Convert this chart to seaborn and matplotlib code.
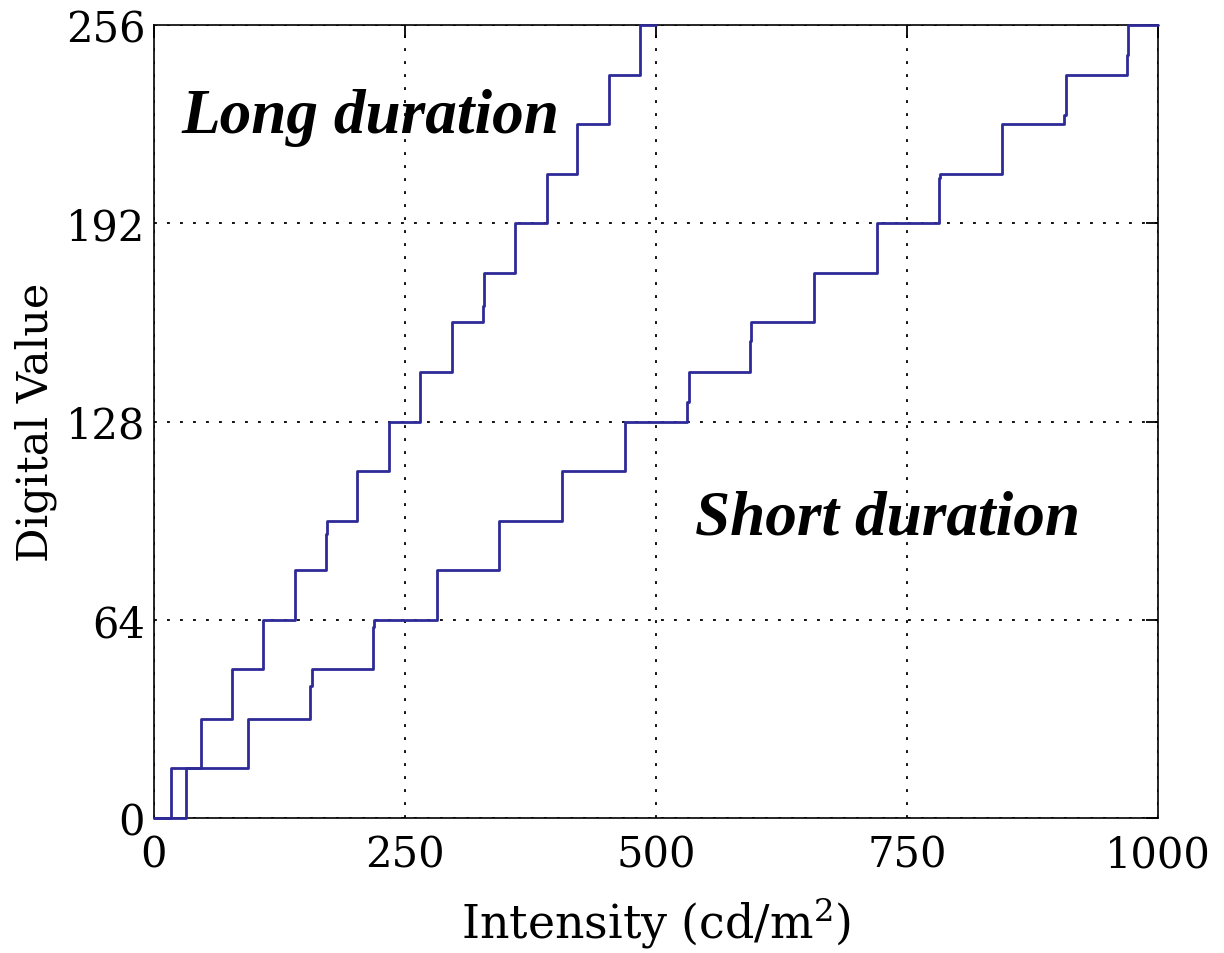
import numpy as np
import pandas as pd
import matplotlib
matplotlib.use("Agg")
import matplotlib.pyplot as plt
import seaborn as sns

# staircase vertices (steps-post): intensity in cd/m^2, digital value
long_intensity = [0, 17.1, 47.0, 78.1, 109.3, 140.5, 171.7, 173.0, 202.8, 234.7,
                  265.2, 297.1, 327.6, 329.2, 359.8, 391.3, 421.8, 453.6, 484.2, 500]
long_digital = [0, 16, 32, 48, 64, 80, 91.6, 96, 112, 128,
                144, 160, 165.3, 176, 192, 208, 224, 240, 256, 256]

short_intensity = [0, 32.0, 93.8, 156.1, 157.7, 218.2, 219.4, 282.4, 344.1, 406.8,
                   468.9, 530.6, 532.6, 593.6, 594.9, 657.6, 719.8, 781.9, 782.9,
                   844.1, 906.4, 908.1, 968.5, 970.2, 1000]
short_digital = [0, 16, 32, 42.7, 48, 61.7, 64, 80, 96, 112,
                 128, 134.3, 144, 154.1, 160, 176, 192, 206.5, 208,
                 224, 227.0, 240, 246.4, 256, 256]

x_ticks = [0, 250, 500, 750, 1000]
y_ticks = [0, 64, 128, 192, 256]

sns.set_style("white")
plt.rcParams["font.family"] = ["DejaVu Serif"]
plt.rcParams["mathtext.fontset"] = "dejavuserif"
plt.rcParams["text.color"] = "black"
plt.rcParams["axes.labelcolor"] = "black"

line_color = "#2e2a98"

fig = plt.figure(figsize=(12.24, 9.54), dpi=100)
ax = fig.add_axes([153.5 / 1224, 1 - 819 / 954, (1158.3 - 153.5) / 1224, (819 - 26) / 954])

df_long = pd.DataFrame({"intensity": long_intensity, "digital": long_digital})
df_short = pd.DataFrame({"intensity": short_intensity, "digital": short_digital})

for d in (df_long, df_short):
    sns.lineplot(data=d, x="intensity", y="digital", ax=ax, sort=False, estimator=None,
                 drawstyle="steps-post", color=line_color, linewidth=2.0,
                 clip_on=False, zorder=3)

ax.set_xlim(0, 1000)
ax.set_ylim(0, 256)
ax.set_xticks(x_ticks)
ax.set_yticks(y_ticks)

ax.grid(True, color="black", linestyle=(0, (1.6, 5.6)), linewidth=1.3)
for s in ax.spines.values():
    s.set_color("black")
    s.set_linewidth(1.2)
    s.set_visible(True)

ax.tick_params(direction="in", length=9, width=1.3, top=True, right=True,
               labelsize=30, colors="black")
ax.tick_params(axis="x", pad=11)
ax.tick_params(axis="y", pad=6)

ax.set_xlabel("Intensity (cd/m$^2$)", fontsize=33, labelpad=14)
ax.set_ylabel("Digital Value", fontsize=31, labelpad=6)

ax.text(28.1, 221.3, "Long duration", family="Liberation Serif", weight="bold",
        style="italic", fontsize=45.5, ha="left", va="baseline")
ax.text(538.9, 91.7, "Short duration", family="Liberation Serif", weight="bold",
        style="italic", fontsize=45.5, ha="left", va="baseline")

fig.savefig("out.png", dpi=100)
